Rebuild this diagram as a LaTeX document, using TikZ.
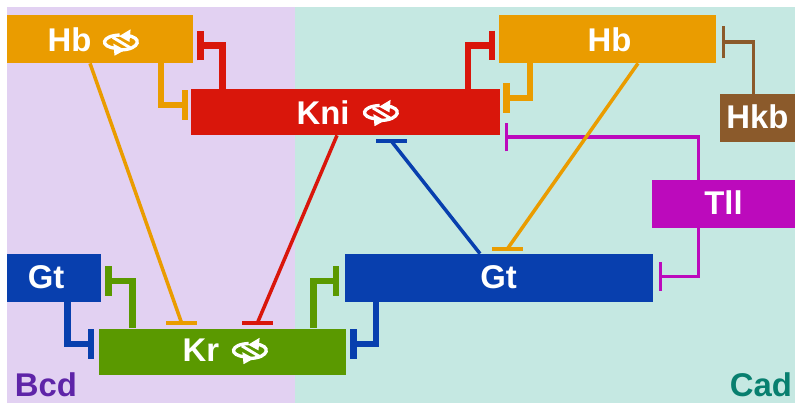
\documentclass[tikz,border=0pt]{standalone}
\usepackage{fontspec}
\setmainfont{Liberation Sans}
\usetikzlibrary{arrows.meta}
\definecolor{bcdbg}{HTML}{E2D1F2}
\definecolor{cadbg}{HTML}{C5E8E2}
\definecolor{hbcol}{HTML}{EA9C00}
\definecolor{knicol}{HTML}{D9160B}
\definecolor{krcol}{HTML}{5A9900}
\definecolor{gtcol}{HTML}{083FAE}
\definecolor{tllcol}{HTML}{BC0ABC}
\definecolor{hkbcol}{HTML}{8B5A2B}
\definecolor{bcdcol}{HTML}{5E24A8}
\definecolor{cadcol}{HTML}{087F6F}

\begin{document}
\begin{tikzpicture}[
    x=0.02cm, y=-0.02cm,
    genebox/.style={inner sep=0pt, minimum height=0.96cm},
    genetxt/.style={inner sep=0pt, text=white, font=\fontsize{18.7}{20}\selectfont\bfseries},
    region/.style={inner sep=0pt, font=\fontsize{18.7}{20}\selectfont\bfseries},
    strong/.style={line width=3.7pt, -{Bar[width=17pt,line width=3.7pt]}},
    weak/.style={line width=1.9pt, -{Bar[width=16.5pt,line width=1.9pt]}},
    flatbar/.style={inner sep=0pt, minimum width=0.62cm, minimum height=0.075cm},
    slant/.style={line width=2pt},
    rotor/.pic={
        \draw[white, line width=1.9pt, scale=1.15] (-5,5) .. controls (-20,4) and (-18,-6) .. (-2,-6.5);
        \draw[white, line width=1.9pt, scale=1.15] (4,-6) .. controls (18,-5) and (16,6) .. (-1,6.5);
        \draw[white, line width=1.7pt, scale=1.15] (-8,-4.5) -- (7,4.5);
        \fill[white, scale=1.15] (7.5,-11.5) -- (6.5,-0.5) -- (-2.5,-5.5) -- cycle;
        \fill[white, scale=1.15] (-6.5,11.5) -- (-7.5,1) -- (2.5,6.5) -- cycle;
    }
]
\useasboundingbox (0,0) rectangle (800,412);

% expression domains
\fill[bcdbg] (7,7) rectangle (295,403);
\fill[cadbg] (295,7) rectangle (795,403);
\node[region, text=bcdcol] (Bcd) at (46,385) {Bcd};
\node[region, text=cadcol] (Cad) at (761,385) {Cad};

% gene boxes
\node[genebox, fill=hbcol, minimum width=3.72cm] (HbL) at (100,39) {};
\node[genebox, fill=knicol, minimum width=6.18cm, minimum height=0.92cm] (Kni) at (345.5,112) {};
\node[genebox, fill=hbcol, minimum width=4.36cm] (HbR) at (607.5,39) {};
\node[genebox, fill=hkbcol, minimum width=1.5cm] (Hkb) at (757.5,118) {};
\node[genebox, fill=tllcol, minimum width=2.86cm] (Tll) at (723.5,204) {};
\node[genebox, fill=gtcol, minimum width=6.16cm] (GtR) at (499,278) {};
\node[genebox, fill=gtcol, minimum width=1.88cm] (GtL) at (54,278) {};
\node[genebox, fill=krcol, minimum width=4.94cm, minimum height=0.92cm] (Kr) at (222.5,351.5) {};

% gene names
\node[genetxt] (HbLname) at (69.5,39.5) {Hb};
\node[genetxt] (Kniname) at (323,112.5) {Kni};
\node[genetxt] (HbRname) at (609.5,39.5) {Hb};
\node[genetxt] (Hkbname) at (757.5,116.7) {Hkb};
\node[genetxt] (Tllname) at (723.5,203) {Tll};
\node[genetxt] (GtRname) at (498.5,277) {Gt};
\node[genetxt] (GtLname) at (46,277.5) {Gt};
\node[genetxt] (Krname) at (201,350.5) {Kr};

% rotating genes
\pic at (122,42.5) {rotor};
\pic at (382,113) {rotor};
\pic at (251,351) {rotor};

% tips of the repression bars
\coordinate (HbLKni) at (188,105);
\coordinate (KniHbL) at (197,45.5);
\coordinate (HbRKni) at (503,98);
\coordinate (KniHbR) at (495,45.5);
\coordinate (HkbHbR) at (721.7,42);
\coordinate (TllKni) at (505,137);
\coordinate (TllGt) at (658.7,276.5);
\coordinate (GtLKr) at (94,344);
\coordinate (KrGtL) at (105,281);
\coordinate (GtRKr) at (350,344);
\coordinate (KrGtR) at (339,281);

% flat bars on the slanted lines
\node[flatbar, fill=hbcol] (HbLKr) at (181.5,322.7) {};
\node[flatbar, fill=knicol] (KniKr) at (257.5,322.7) {};
\node[flatbar, fill=hbcol] (HbRGt) at (507.5,248.7) {};
\node[flatbar, fill=gtcol] (GtKni) at (391,140.7) {};

% short range repression
\draw[strong, hbcol] (161,0 |- HbL.south) |- (HbLKni);
\draw[strong, knicol] (222.5,0 |- Kni.north) |- (KniHbL);
\draw[strong, hbcol] (530,0 |- HbR.south) |- (HbRKni);
\draw[strong, knicol] (468,0 |- Kni.north) |- (KniHbR);
\draw[strong, gtcol] (67.5,0 |- GtL.south) |- (GtLKr);
\draw[strong, krcol] (132.5,0 |- Kr.north) |- (KrGtL);
\draw[strong, gtcol] (376,0 |- GtR.south) |- (GtRKr);
\draw[strong, krcol] (313.5,0 |- Kr.north) |- (KrGtR);

% long range repression
\draw[weak, -{Bar[width=18.7pt,line width=1.7pt]}, hkbcol] (753.5,0 |- Hkb.north) |- (HkbHbR);
\draw[weak, tllcol] (698.5,0 |- Tll.north) |- (TllKni);
\draw[weak, tllcol] (698.5,0 |- Tll.south) |- (TllGt);
\draw[slant, hbcol] (90,0 |- HbL.south) -- (HbLKr.center);
\draw[slant, knicol] (337,0 |- Kni.south) -- (KniKr.center);
\draw[slant, hbcol] (638,0 |- HbR.south) -- (HbRGt.center);
\draw[slant, gtcol] (480,0 |- GtR.north) -- (GtKni.center);

\end{tikzpicture}
\end{document}
